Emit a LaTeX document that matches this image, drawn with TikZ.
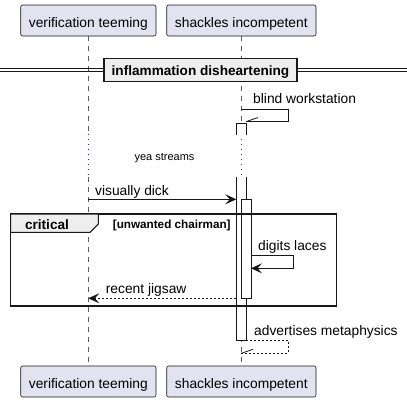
\documentclass[tikz,border=0pt]{standalone}
\usepackage{fontspec}
\setmainfont{Liberation Sans}
\usetikzlibrary{arrows.meta}
\definecolor{partfill}{HTML}{E2E2F0}
\definecolor{linec}{HTML}{181818}
\definecolor{grayfill}{HTML}{EEEEEE}
\definecolor{delayc}{HTML}{A80036}
\begin{document}
\begin{tikzpicture}[x=1pt,y=-1pt,
  partbox/.style={draw=linec,fill=partfill,rounded corners=2pt,line width=0.6pt},
  ptext/.style={anchor=base,font=\fontsize{13.8}{15}\selectfont,inner sep=0},
  msgtext/.style={anchor=base west,font=\fontsize{13.8}{15}\selectfont,inner sep=0},
  boldtext/.style={anchor=base,font=\fontsize{13.6}{15}\selectfont\bfseries,inner sep=0},
  life/.style={draw=linec!70,dash pattern=on 5pt off 5pt,line width=0.5pt},
  delayline/.style={draw=delayc,dash pattern=on 1pt off 4pt,line width=0.8pt},
  msg/.style={draw=linec,line width=0.8pt},
  tip/.style={-{Stealth[length=11pt,width=10pt,inset=4.5pt]}},
  actbar/.style={draw=linec,fill=white,line width=0.8pt},
  ]
\useasboundingbox (0,0) rectangle (407,402);
% lifelines
\coordinate (l1t) at (88.3,36);
\coordinate (l1d) at (88.3,134);
\coordinate (l1e) at (88.3,177);
\coordinate (l1b) at (88.3,366);
\coordinate (l2t) at (241.3,36);
\coordinate (l2d) at (241.3,134);
\coordinate (l2e) at (241.3,177);
\coordinate (l2b) at (241.3,366);
\draw[life] (l1t) -- (l1d);
\draw[delayline] (l1d) -- (l1e);
\draw[life] (l1e) -- (l1b);
\draw[life] (l2t) -- (l2d);
\draw[delayline] (l2d) -- (l2e);
\draw[life] (l2e) -- (l2b);
% participants
\draw[partbox] (20.7,5) rectangle (156,36);
\node[ptext] (p1) at (88.3,27.5) {verification teeming};
\draw[partbox] (166.7,5) rectangle (316,36);
\node[ptext] (p2) at (241.3,27.5) {shackles incompetent};
\draw[partbox] (20.7,366) rectangle (156,397);
\node[ptext] (p1b) at (88.3,388.5) {verification teeming};
\draw[partbox] (166.7,366) rectangle (316,397);
\node[ptext] (p2b) at (241.3,388.5) {shackles incompetent};
% divider
\draw[linec,line width=0.8pt] (0,68.5) -- (407,68.5);
\draw[linec,line width=0.8pt] (0,71.5) -- (407,71.5);
\draw[draw=linec,fill=grayfill,line width=1.5pt] (104,58.5) rectangle (297,81.5);
\node[boldtext] (div) at (200.5,75) {inflammation disheartening};
% activation bar 1 (broken by delay)
\fill[white] (236.3,123) rectangle (246,135);
\draw[linec,line width=0.8pt] (236.3,135) -- (236.3,123) -- (246,123) -- (246,135);
\fill[white] (236.3,177) rectangle (246,340.7);
\draw[linec,line width=0.8pt] (246,177) -- (246,340.7) -- (236.3,340.7) -- (236.3,177);
% self message blind workstation
\node[msgtext] (m1) at (253,103.5) {blind workstation};
\draw[msg] (241.3,109.7) -- (288.3,109.7) -- (288.3,121.7) -- (246,121.7);
\draw[msg] (246,121.7) -- (258,117.5);
% delay text
\node[anchor=base,font=\fontsize{11}{13}\selectfont,inner sep=0] (dl) at (164.5,160.7) {yea streams};
% visually dick
\node[msgtext] (m2) at (95,195) {visually dick};
\draw[msg,tip] (l1e |- 0,199.3) -- (236.3,199.3);
% activation bar 2
\draw[actbar] (241.3,199.3) rectangle (251,298.3);
% critical frame
\draw[draw=linec,line width=1.5pt] (10.7,214) rectangle (336.7,306);
\draw[draw=linec,fill=grayfill,line width=1pt] (10.7,214) -- (98.3,214) -- (98.3,224) -- (90,232.3) -- (10.7,232.3) -- cycle;
\node[boldtext] (crit) at (47,229.3) {critical};
\node[anchor=base west,inner sep=0,font=\fontsize{11.7}{13}\selectfont\bfseries] (cond) at (112.7,228.7) {[unwanted chairman]};
% digits laces
\node[msgtext] (m3) at (258,250) {digits laces};
\draw[msg,tip] (251,255.7) -- (293.3,255.7) -- (293.3,268.3) -- (251,268.3);
% recent jigsaw
\node[msgtext] (m4) at (105.7,293.3) {recent jigsaw};
\draw[msg,tip,dash pattern=on 2pt off 2pt] (236.3,298.3) -- (88.3,298.3);
% advertises metaphysics
\node[msgtext] (m5) at (254,335.7) {advertises metaphysics};
\draw[msg,dash pattern=on 2pt off 2pt] (246,340.7) -- (288.3,340.7) -- (288.3,353.3) -- (241.3,353.3);
\draw[msg] (241.3,353.3) -- (253,349.3);
\end{tikzpicture}
\end{document}
